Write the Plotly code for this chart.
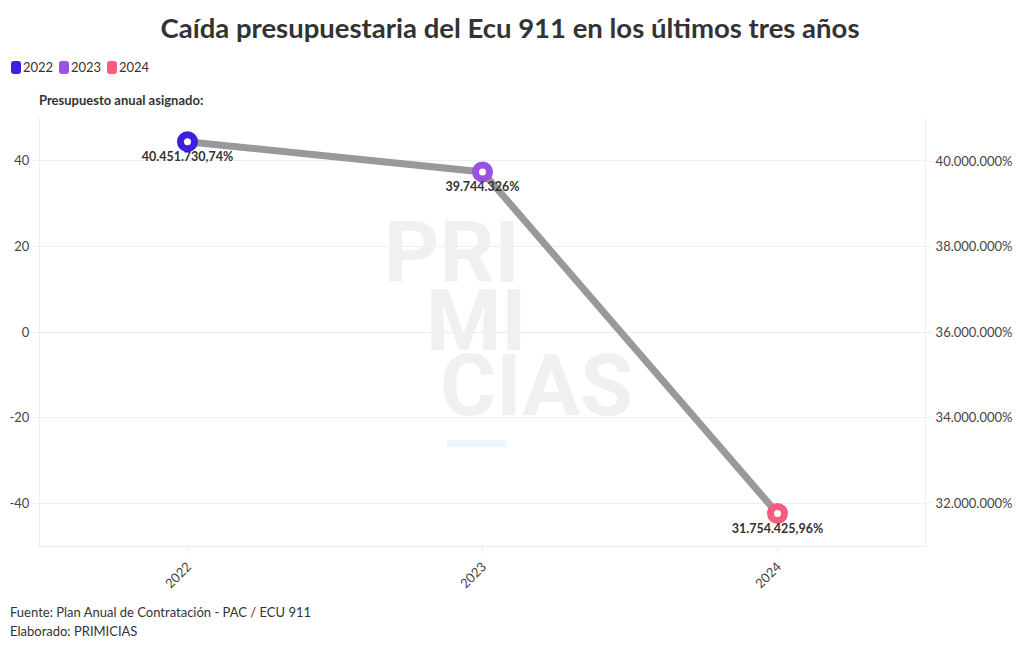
import plotly.graph_objects as go

years = ["2022", "2023", "2024"]
budget = [40451730.74, 39744326, 31754425.96]
colors = ["#3d1fe3", "#9b51e0", "#f55c7e"]
left_ticks = [-40, -20, 0, 20, 40]
left_labels = ["-40", "-20", "0", "20", "40"]
right_ticks = [32000000, 34000000, 36000000, 38000000, 40000000]
right_labels = ["32.000.000%", "34.000.000%", "36.000.000%", "38.000.000%", "40.000.000%"]

title = "Caída presupuestaria del Ecu 911 en los últimos tres años"
subtitle = "Presupuesto anual asignado:"
footer = ["Fuente: Plan Anual de Contratación - PAC / ECU 911", "Elaborado: PRIMICIAS"]
watermark = ["PRI", "MI", "CIAS"]

FONT = "Source Sans Pro, Lato, sans-serif"
L, R, T, B = 40, 95, 118, 104
W, H = 1020, 650
PW, PH = W - L - R, H - T - B

def px(x):
    return (x - L) / PW

def py(y):
    return (H - B - y) / PH

fig = go.Figure()

# invisible trace on the left axis so it is drawn
fig.add_trace(go.Scatter(x=years, y=[None] * len(years), yaxis="y", showlegend=False,
                         hoverinfo="skip", mode="markers"))

fig.add_trace(go.Scatter(
    x=years, y=budget, yaxis="y2", mode="lines+markers+text",
    line=dict(color="#999999", width=7),
    marker=dict(size=14, color="white", line=dict(color=colors, width=7)),
    texttemplate="%{y:,}%", textposition="bottom center",
    textfont=dict(family=FONT, size=12.5, color="#333333", weight="bold"),
    showlegend=False, cliponaxis=False, hoverinfo="skip",
))

shapes = []
annotations = []

# legend
for i, (yr, c) in enumerate(zip(years, colors)):
    cx = 16 + i * 48
    cy = 67.5
    shapes.append(dict(
        type="path", xref="paper", yref="paper", xsizemode="pixel", ysizemode="pixel",
        xanchor=px(cx), yanchor=py(cy),
        path="M -2,-6.5 L 2,-6.5 Q 5,-6.5 5,-3.5 L 5,3.5 Q 5,6.5 2,6.5 L -2,6.5 Q -5,6.5 -5,3.5 L -5,-3.5 Q -5,-6.5 -2,-6.5 Z",
        fillcolor=c, line=dict(width=0),
    ))
    annotations.append(dict(
        text=yr, xref="paper", yref="paper", x=px(cx + 5), y=py(cy),
        xanchor="left", yanchor="middle", showarrow=False,
        font=dict(family=FONT, size=13, color="#333333"),
    ))

annotations.append(dict(
    text=subtitle, xref="paper", yref="paper", x=px(37), y=py(100),
    xanchor="left", yanchor="middle", showarrow=False,
    font=dict(family=FONT, size=13, color="#333333", weight="bold"),
))

for j, line in enumerate(footer):
    annotations.append(dict(
        text=line, xref="paper", yref="paper", x=px(8), y=py(612 + j * 19),
        xanchor="left", yanchor="middle", showarrow=False,
        font=dict(family=FONT, size=13, color="#333333"),
    ))

# watermark
wm_pos = [(382, 252), (424, 320), (438, 385)]
for txt, (x0, yc) in zip(watermark, wm_pos):
    annotations.append(dict(
        text=txt, xref="paper", yref="paper", x=px(x0), y=py(yc),
        xanchor="left", yanchor="middle", showarrow=False, height=66, valign="middle",
        font=dict(family="Roboto, sans-serif", size=86, color="#f0f0f0", weight="bold"),
    ))
shapes.append(dict(type="rect", xref="paper", yref="paper", x0=px(447), x1=px(506),
                   y0=py(447), y1=py(440), fillcolor="#edf5fe", line=dict(width=0), layer="below"))

fig.update_layout(
    width=W, height=H,
    margin=dict(l=L, r=R, t=T, b=B, autoexpand=False),
    paper_bgcolor="white", plot_bgcolor="white",
    separators=",.",
    font=dict(family=FONT, size=13, color="#444444"),
    title=dict(text=title, x=0.5, xanchor="center", xref="container",
               y=1 - 28 / H, yref="container", yanchor="middle", automargin=False,
               font=dict(family=FONT, size=27.5, color="#333333", weight="bold")),
    showlegend=False,
    hovermode=False,
    xaxis=dict(type="category", range=[-0.5, 2.5], tickangle=-45, automargin=False,
               showline=True, linecolor="#eeeeee", linewidth=1, mirror=False,
               ticks="outside", ticklen=7, tickcolor="#eeeeee", showgrid=False,
               tickfont=dict(family=FONT, size=13, color="#444444"), zeroline=False),
    yaxis=dict(range=[-50, 50], tickvals=left_ticks, ticktext=left_labels, automargin=False,
               showgrid=True, gridcolor="#eeeeee",
               showline=True, linecolor="#eeeeee", ticks="outside", ticklen=7,
               tickcolor="#eeeeee", zeroline=False,
               tickfont=dict(family=FONT, size=13, color="#444444")),
    yaxis2=dict(overlaying="y", side="right", range=[30994000, 41006000], automargin=False,
                tickvals=right_ticks, ticktext=right_labels,
                showgrid=False, showline=True, linecolor="#eeeeee",
                ticks="outside", ticklen=7, tickcolor="#eeeeee", zeroline=False,
                tickfont=dict(family=FONT, size=13, color="#444444")),
    shapes=shapes, annotations=annotations,
)

fig.write_html("out.html", config={"displayModeBar": False},
               post_script="document.body.style.margin='0';")
